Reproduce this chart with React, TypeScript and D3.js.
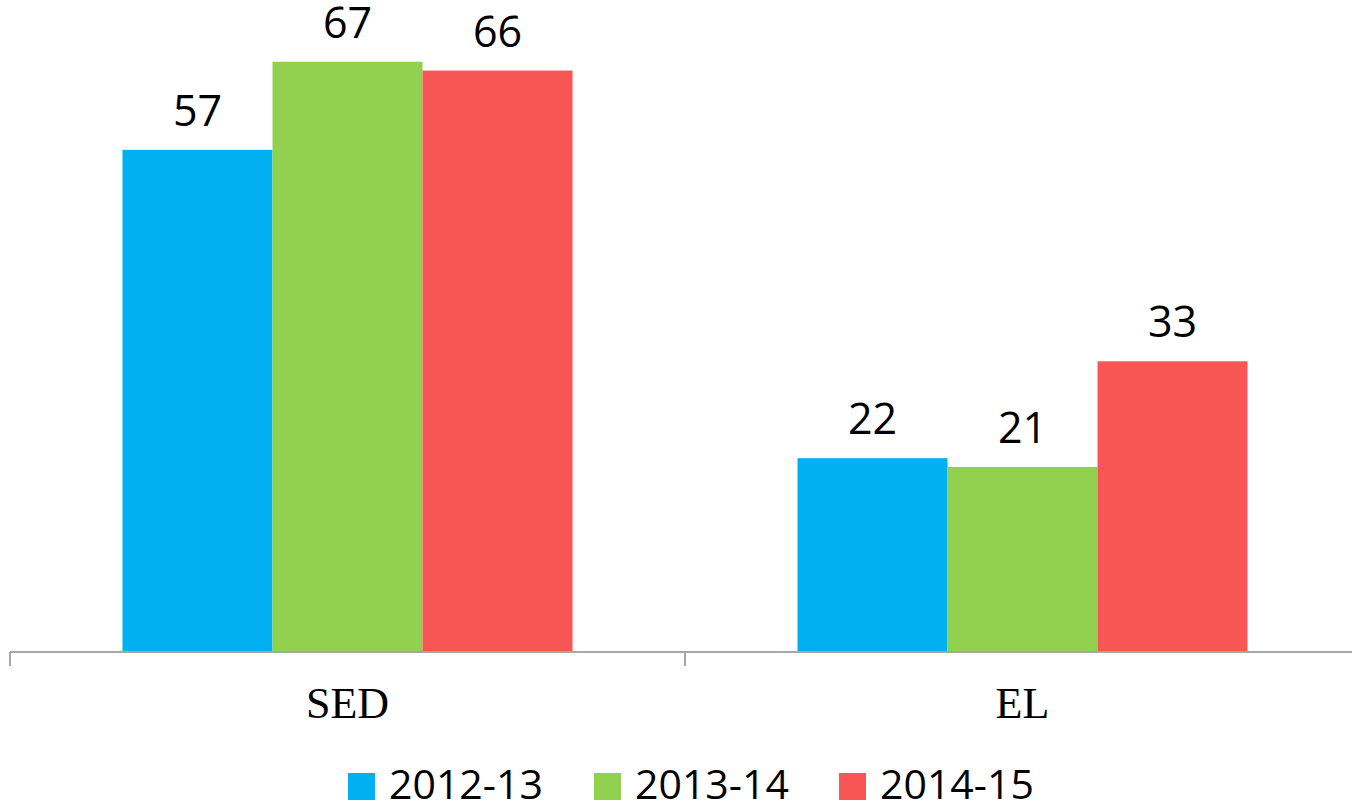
import React, { useEffect, useRef } from 'react';
import * as d3 from 'd3';

const categories = ['SED', 'EL'];
const seriesNames = ['2012-13', '2013-14', '2014-15'];
const seriesColors = ['#00B0F0', '#92D050', '#F85555'];
const values2012 = [57, 22];
const values2013 = [67, 21];
const values2014 = [66, 33];

const W = 1352;
const H = 805;

const App = () => {
  const svgRef = useRef<SVGSVGElement | null>(null);

  useEffect(() => {
    if (!svgRef.current) return;
    const svg = d3.select(svgRef.current);
    svg.selectAll('*').remove();

    const margin = { left: 10, top: 35, bottom: 153 };
    const baseY = H - margin.bottom;

    const series = [values2012, values2013, values2014];

    // category bands, 3 bars of one series each
    const x0 = d3.scaleBand<string>()
      .domain(categories)
      .range([margin.left, 1360]);

    const x1 = d3.scaleBand<string>()
      .domain(seriesNames)
      .range([0, x0.bandwidth()])
      .paddingOuter(0.75)
      .paddingInner(0);

    const y = d3.scaleLinear()
      .domain([0, 70])
      .range([baseY, baseY - 70 * 8.81]);

    const g = svg.append('g');

    categories.forEach((cat, ci) => {
      seriesNames.forEach((name, si) => {
        const v = series[si][ci];
        const bx = (x0(cat) as number) + (x1(name) as number);
        g.append('rect')
          .attr('x', bx)
          .attr('y', y(v))
          .attr('width', x1.bandwidth())
          .attr('height', y(0) - y(v))
          .attr('fill', seriesColors[si]);

        g.append('text')
          .attr('x', bx + x1.bandwidth() / 2)
          .attr('y', y(v) - 24)
          .attr('text-anchor', 'middle')
          .attr('font-family', 'Open Sans, sans-serif')
          .attr('font-size', '43px')
          .attr('fill', '#000')
          .text(v);
      });
    });

    // axis line with ticks
    const axisColor = '#A6A6A6';
    g.append('line')
      .attr('x1', margin.left)
      .attr('x2', W)
      .attr('y1', baseY)
      .attr('y2', baseY)
      .attr('stroke', axisColor)
      .attr('stroke-width', 2);

    const tickXs = [margin.left, (x0(categories[1]) as number)];
    tickXs.forEach((tx) => {
      g.append('line')
        .attr('x1', tx)
        .attr('x2', tx)
        .attr('y1', baseY)
        .attr('y2', baseY + 14)
        .attr('stroke', axisColor)
        .attr('stroke-width', 2);
    });

    // category labels
    categories.forEach((cat) => {
      g.append('text')
        .attr('x', (x0(cat) as number) + x0.bandwidth() / 2)
        .attr('y', 718)
        .attr('text-anchor', 'middle')
        .attr('font-family', 'Liberation Serif, Times New Roman, serif')
        .attr('font-size', '44px')
        .attr('fill', '#000')
        .text(cat);
    });

    // legend
    const legendX = [348, 594, 839];
    seriesNames.forEach((name, i) => {
      const lg = g.append('g').attr('transform', `translate(${legendX[i]}, 773)`);
      lg.append('rect')
        .attr('x', 0)
        .attr('y', 0)
        .attr('width', 27)
        .attr('height', 27)
        .attr('fill', seriesColors[i]);
      lg.append('text')
        .attr('x', 41)
        .attr('y', 26)
        .attr('font-family', 'Open Sans, sans-serif')
        .attr('font-size', '41px')
        .attr('fill', '#000')
        .text(name);
    });
  }, []);

  return (
    <svg
      ref={svgRef}
      width={W}
      height={H}
      style={{ position: 'absolute', left: 0, top: 0, background: '#fff' }}
    />
  );
};

export default App;
